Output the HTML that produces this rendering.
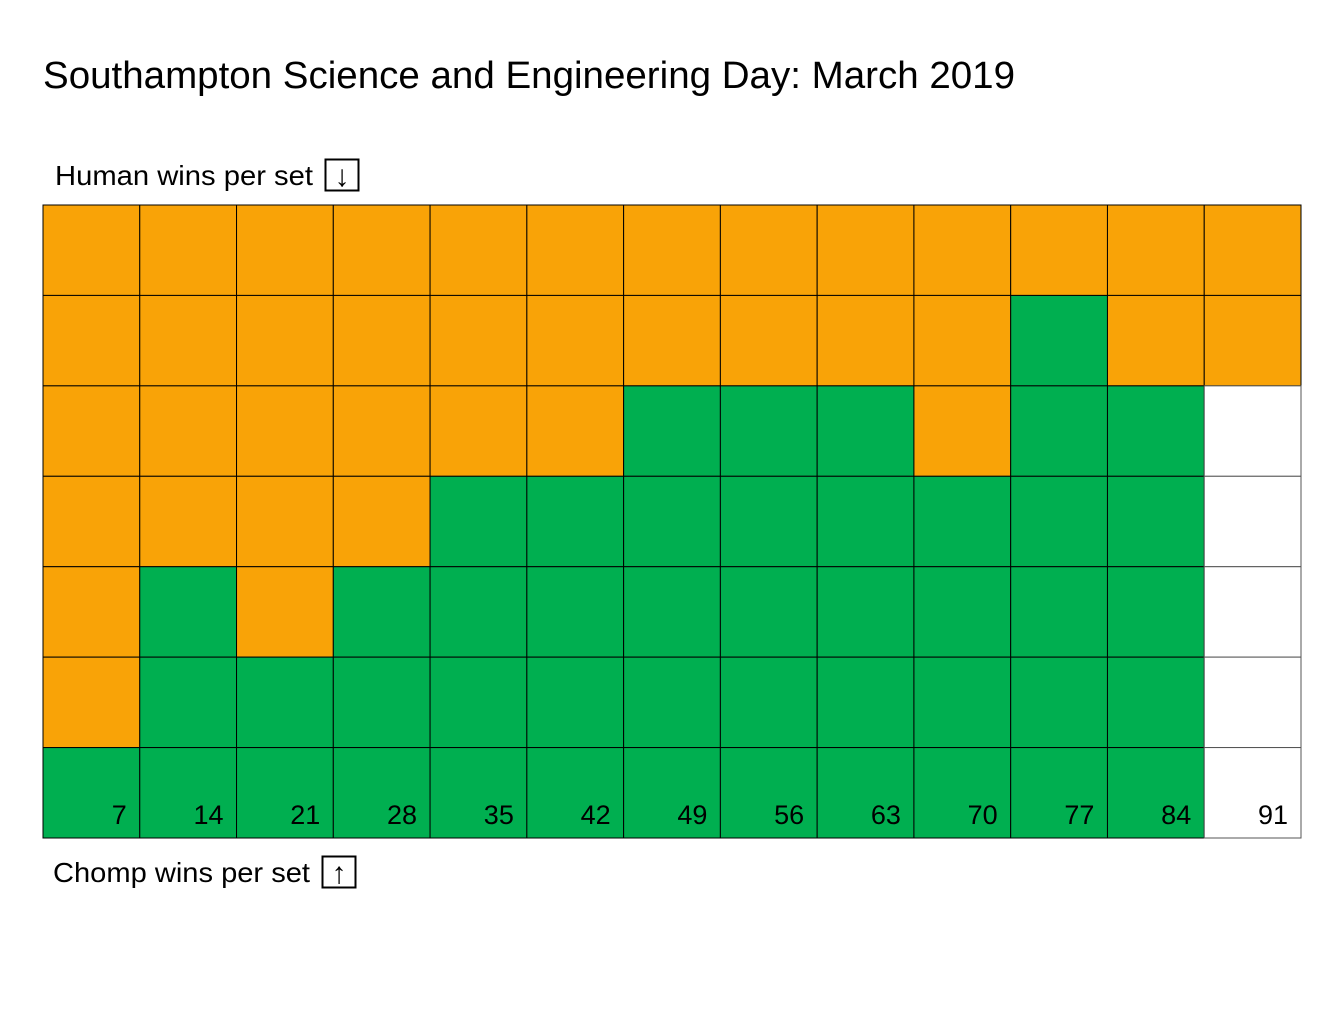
<!DOCTYPE html>
<html><head><meta charset="utf-8">
<style>
html,body{margin:0;padding:0;background:#fff;}
body{width:1344px;height:1008px;overflow:hidden;font-family:"Liberation Sans",sans-serif;}
</style></head>
<body>
<svg id="chart" width="1344" height="1008" viewBox="0 0 1344 1008" xmlns="http://www.w3.org/2000/svg">
  <text x="43" y="88" font-size="38" textLength="972" lengthAdjust="spacingAndGlyphs" fill="#000" font-family="Liberation Sans, sans-serif">Southampton Science and Engineering Day: March 2019</text>
  <text x="55" y="185" font-size="28" textLength="258" lengthAdjust="spacingAndGlyphs" fill="#000" font-family="Liberation Sans, sans-serif">Human wins per set</text>
  <rect x="325.5" y="159.5" width="33" height="31" fill="none" stroke="#000" stroke-width="2"/>
  <text x="342" y="186" font-size="30" text-anchor="middle" fill="#000">↓</text>
  <g id="grid"></g>
  <text x="53" y="882" font-size="28" textLength="257" lengthAdjust="spacingAndGlyphs" fill="#000" font-family="Liberation Sans, sans-serif">Chomp wins per set</text>
  <rect x="322.5" y="856.5" width="33" height="31" fill="none" stroke="#000" stroke-width="2"/>
  <text x="339" y="883" font-size="30" text-anchor="middle" fill="#000">↑</text>
</svg>
<script>
// Outcomes per set, top to bottom: H = human win, C = Chomp win, - = not played
const set1  = ["H","H","H","H","H","H","C"];
const set2  = ["H","H","H","H","C","C","C"];
const set3  = ["H","H","H","H","H","C","C"];
const set4  = ["H","H","H","H","C","C","C"];
const set5  = ["H","H","H","C","C","C","C"];
const set6  = ["H","H","H","C","C","C","C"];
const set7  = ["H","H","C","C","C","C","C"];
const set8  = ["H","H","C","C","C","C","C"];
const set9  = ["H","H","C","C","C","C","C"];
const set10 = ["H","H","H","C","C","C","C"];
const set11 = ["H","C","C","C","C","C","C"];
const set12 = ["H","H","C","C","C","C","C"];
const set13 = ["H","H","-","-","-","-","-"];
const sets = [set1,set2,set3,set4,set5,set6,set7,set8,set9,set10,set11,set12,set13];
const gamesPerSet = 7;

const gx0 = 43, gx1 = 1301, gy0 = 205, gy1 = 838;
const nCols = sets.length, nRows = gamesPerSet;
const cw = (gx1 - gx0) / nCols, rh = (gy1 - gy0) / nRows;
const colX = i => gx0 + i * cw;
const rowY = j => gy0 + j * rh;
const colors = {H:"#F9A307", C:"#00AF50", "-":"#FFFFFF"};
const NS = "http://www.w3.org/2000/svg";
const g = document.getElementById("grid");

sets.forEach((s, i) => {
  s.forEach((o, j) => {
    const r = document.createElementNS(NS, "rect");
    r.setAttribute("x", colX(i));
    r.setAttribute("y", rowY(j));
    r.setAttribute("width", cw);
    r.setAttribute("height", rh);
    r.setAttribute("fill", colors[o]);
    r.setAttribute("stroke", o === "-" ? "#555" : "#000");
    r.setAttribute("stroke-width", "1");
    
    
    g.appendChild(r);
  });
  const t = document.createElementNS(NS, "text");
  t.setAttribute("x", colX(i + 1) - 13);
  t.setAttribute("y", rowY(nRows) - 14);
  t.setAttribute("font-size", "27");
  t.setAttribute("text-anchor", "end");
  t.setAttribute("fill", "#000");
  t.setAttribute("font-family", "Liberation Sans, sans-serif");
  t.textContent = (i + 1) * gamesPerSet;
  
  
  g.appendChild(t);
});
</script>
</body></html>
